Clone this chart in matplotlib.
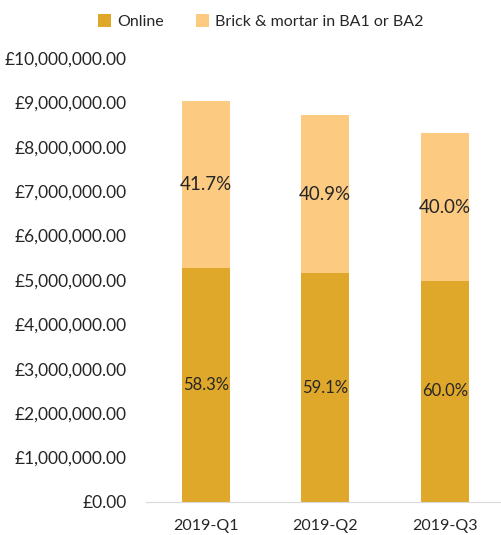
import matplotlib
matplotlib.use("Agg")
from matplotlib import pyplot as plt
from matplotlib.ticker import FuncFormatter

quarters = ["2019-Q1", "2019-Q2", "2019-Q3"]
online = [5260000, 5150000, 4980000]
brick = [3770000, 3560000, 3320000]
online_pct = ["58.3%", "59.1%", "60.0%"]
brick_pct = ["41.7%", "40.9%", "40.0%"]

dark = "#DFA82B"
light = "#FCCB81"
text_col = "#262626"

plt.rcParams["font.family"] = ["Lato", "DejaVu Sans"]

fig = plt.figure(figsize=(5.02, 5.35), dpi=100)
ax = fig.add_axes([0.291, 0.0617, 0.714, 0.830])

x = range(len(quarters))
b1 = ax.bar(x, online, width=0.40, color=dark, label="Online")
b2 = ax.bar(x, brick, width=0.40, bottom=online, color=light,
            label="Brick & mortar in BA1 or BA2")

ax.bar_label(b1, labels=online_pct, label_type="center", fontsize=12, color=text_col)
ax.bar_label(b2, labels=brick_pct, label_type="center", fontsize=13.5, color=text_col)

ax.set_xlim(-0.5, 2.5)
ax.set_ylim(0, 10000000)
ax.set_yticks(range(0, 10000001, 1000000))
ax.yaxis.set_major_formatter(FuncFormatter(lambda v, p: f"£{v:,.2f}"))
ax.set_xticks(list(x))
ax.set_xticklabels(quarters)

for s in ["top", "right", "left"]:
    ax.spines[s].set_visible(False)
ax.spines["bottom"].set_color("#D9D9D9")
ax.tick_params(axis="both", length=0, labelcolor=text_col)
ax.tick_params(axis="x", pad=12, labelsize=11.5)
ax.tick_params(axis="y", pad=14, labelsize=12.5)

fig.legend(loc="upper center", bbox_to_anchor=(0.52, 1.0), ncol=2, frameon=False,
           fontsize=11.5, handlelength=0.8, handleheight=0.8, handletextpad=0.4,
           columnspacing=2.0, labelcolor=text_col)

fig.savefig("out.png", dpi=100)
